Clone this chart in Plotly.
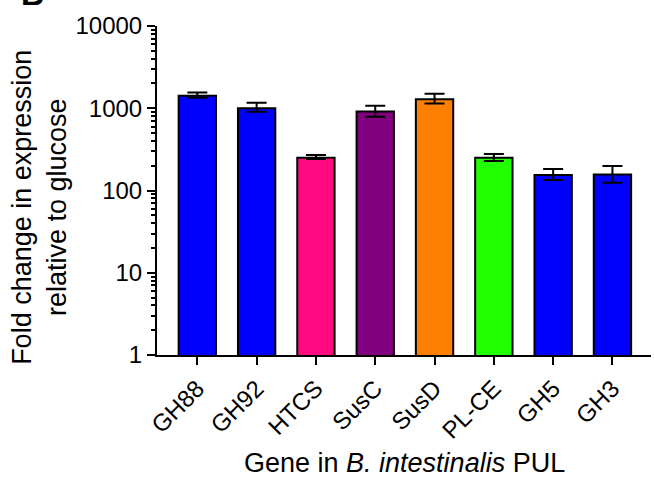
import plotly.graph_objects as go

genes = ["GH88", "GH92", "HTCS", "SusC", "SusD", "PL-CE", "GH5", "GH3"]
fold_change = [1416, 1003, 250, 914, 1291, 250, 154, 157]
err_plus = [140, 161, 21, 155, 206, 27, 28, 41]
err_minus = [77, 99, 9, 127, 148, 21, 20, 33]
colors = ["#0000FF", "#0000FF", "#FF0A80", "#800080", "#FF8000", "#22FF00", "#0000FF", "#0000FF"]

FONT = "Liberation Sans, Arial, sans-serif"

fig = go.Figure()
fig.add_trace(go.Bar(
    x=genes, y=fold_change,
    marker=dict(color=colors, line=dict(color="black", width=2)),
    width=0.63,
    error_y=dict(type="data", symmetric=False, array=err_plus, arrayminus=err_minus,
                 color="black", thickness=2, width=10),
))

fig.update_layout(
    width=654, height=481,
    margin=dict(l=157, r=3, t=26, b=126),
    plot_bgcolor="white", paper_bgcolor="white",
    showlegend=False,
    font=dict(family=FONT, color="black"),
    xaxis=dict(
        range=[-0.68, 7.65], showline=True, linecolor="black", linewidth=2,
        ticks="outside", ticklen=8, tickwidth=2, tickcolor="black",
        tickangle=-45, tickfont=dict(size=24, family=FONT), showgrid=False, zeroline=False,
    ),
    yaxis=dict(
        type="log", range=[0, 4], dtick=1, tickformat="d",
        showline=True, linecolor="black", linewidth=2,
        ticks="outside", ticklen=8, tickwidth=2, tickcolor="black",
        tickfont=dict(size=24, family=FONT), showgrid=False, zeroline=False,
        minor=dict(ticks="outside", ticklen=4, tickwidth=1.5, tickcolor="black", showgrid=False),
    ),
    annotations=[
        dict(text="Fold change in expression<br>relative to glucose", textangle=-90,
             xref="paper", yref="paper", x=-0.237, y=0.45, showarrow=False,
             font=dict(size=27, family=FONT), xanchor="center", yanchor="middle"),
        dict(text="Gene in <i>B. intestinalis</i> PUL",
             xref="paper", yref="paper", x=0.502, y=-0.328, showarrow=False,
             font=dict(size=27, family=FONT), xanchor="center", yanchor="middle"),
        dict(text="<b>B</b>", xref="paper", yref="paper", x=-0.253, y=1.036, showarrow=False,
             font=dict(size=32, family=FONT), xanchor="center", yanchor="bottom"),
    ],
)

fig.write_html("out.html")
